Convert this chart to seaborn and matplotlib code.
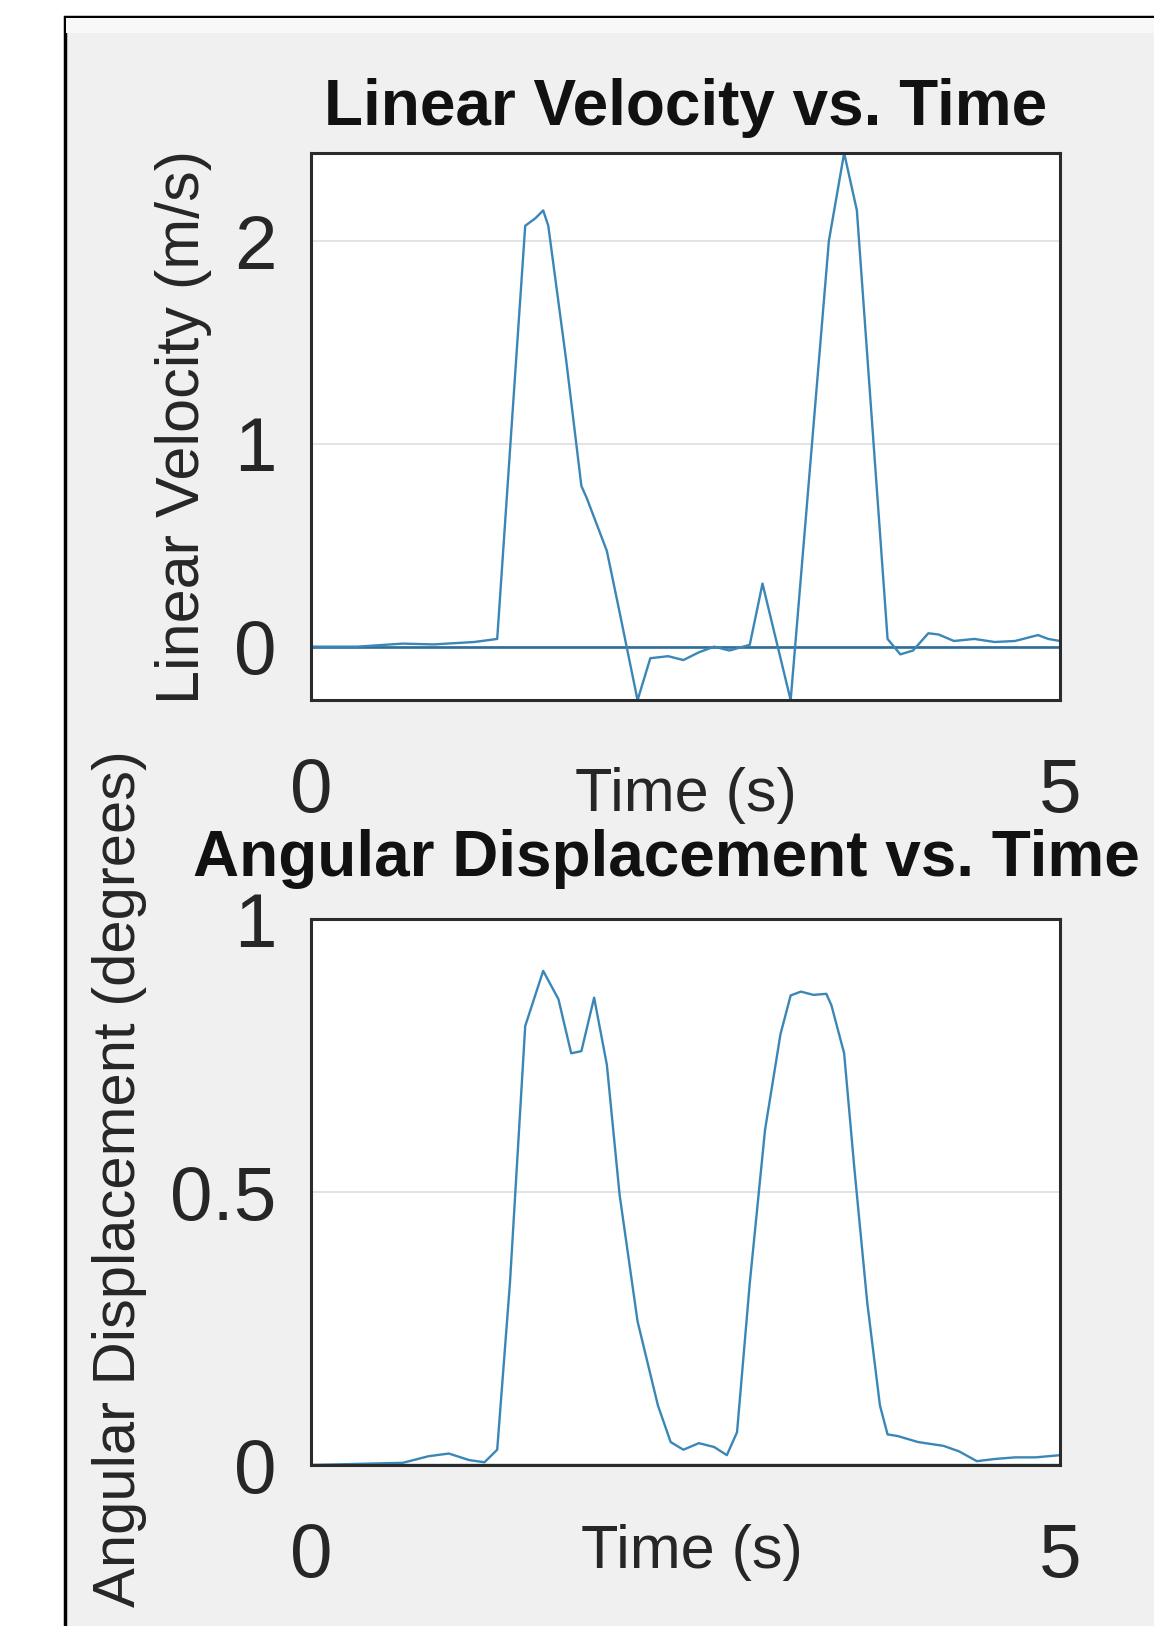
import numpy as np
import pandas as pd
import matplotlib
matplotlib.use("Agg")
import matplotlib.pyplot as plt
import seaborn as sns
from matplotlib.patches import Rectangle

# values
vel_time = [0.0, 0.31, 0.613, 0.817, 1.09, 1.243, 1.43, 1.499, 1.55, 1.584, 1.703,
            1.805, 1.839, 1.975, 2.06, 2.18, 2.265, 2.384, 2.486, 2.589, 2.691,
            2.793, 2.929, 3.014, 3.202, 3.457, 3.559, 3.644, 3.849, 3.934, 4.019,
            4.121, 4.189, 4.292, 4.428, 4.564, 4.70, 4.853, 4.922, 5.0]
vel_value = [0.0, 0.0, 0.015, 0.011, 0.023, 0.038, 2.075, 2.113, 2.151, 2.075, 1.415,
             0.792, 0.736, 0.472, 0.17, -0.264, -0.057, -0.047, -0.066, -0.028, 0.0,
             -0.019, 0.009, 0.311, -0.264, 2.0, 2.434, 2.151, 0.038, -0.038, -0.019,
             0.066, 0.06, 0.028, 0.038, 0.023, 0.028, 0.057, 0.038, 0.028]

ang_time = [0.0, 0.613, 0.783, 0.92, 1.056, 1.158, 1.243, 1.328, 1.43, 1.55, 1.652,
            1.737, 1.805, 1.89, 1.975, 2.06, 2.18, 2.316, 2.401, 2.486, 2.589,
            2.691, 2.776, 2.844, 2.929, 3.031, 3.134, 3.202, 3.27, 3.355, 3.44,
            3.474, 3.559, 3.627, 3.713, 3.798, 3.849, 3.917, 4.053, 4.223, 4.326,
            4.445, 4.564, 4.70, 4.837, 5.0]
ang_value = [0.0, 0.004, 0.016, 0.021, 0.009, 0.005, 0.028, 0.333, 0.804, 0.905, 0.853,
             0.754, 0.758, 0.856, 0.733, 0.495, 0.263, 0.109, 0.042, 0.028, 0.04,
             0.033, 0.018, 0.06, 0.333, 0.614, 0.789, 0.86, 0.867, 0.861, 0.863,
             0.842, 0.754, 0.544, 0.298, 0.109, 0.056, 0.053, 0.042, 0.035, 0.025,
             0.007, 0.011, 0.014, 0.014, 0.018]

vel_ticks = [0, 1, 2]
ang_ticks = [0, 0.5, 1]
ang_tick_labels = ["0", "0.5", "1"]
time_ticks = [0, 5]

sns.set_theme(style="white")
plt.rcParams["font.family"] = ["Liberation Sans", "DejaVu Sans"]

line_col = "#3a86b6"
zero_col = "#2c6d99"

fig = plt.figure(figsize=(11.54, 16.26), dpi=100, facecolor="white")

# gray MATLAB-like window with black frame (cut off at right / bottom)
W, H = 1154, 1626
fig.patches.append(Rectangle((65 / W, -0.1), 1.2, 1.1 - 17 / H, transform=fig.transFigure,
                             facecolor="#f0f0f0", edgecolor="black", lw=2.5, zorder=-2))
fig.patches.append(Rectangle((66 / W, 1 - 33 / H), 1.2, 15 / H, transform=fig.transFigure,
                             facecolor="#f8f8f8", edgecolor="none", zorder=-1))

ax1 = fig.add_axes([311 / W, 1 - 700 / H, 749 / W, 547 / H])
ax2 = fig.add_axes([311 / W, 1 - 1465 / H, 749 / W, 546 / H])

df_vel = pd.DataFrame({"t": vel_time, "v": vel_value})
df_ang = pd.DataFrame({"t": ang_time, "a": ang_value})

sns.lineplot(data=df_vel, x="t", y="v", ax=ax1, color=line_col, lw=1.7)
sns.lineplot(data=df_ang, x="t", y="a", ax=ax2, color=line_col, lw=1.7)
ax1.axhline(0, color=zero_col, lw=1.9, zorder=1)
ax2.axhline(0, color=zero_col, lw=2.4, zorder=1)

ax1.set_xlim(0, 5)
ax1.set_ylim(-0.263, 2.434)
ax2.set_xlim(0, 5)
ax2.set_ylim(0, 1)

for ax in (ax1, ax2):
    ax.set_facecolor("white")
    ax.set_xticks(time_ticks)
    ax.set_xticklabels(["0", "5"])
    ax.tick_params(axis="x", length=0, pad=41, labelsize=55, labelcolor="#262626")
    ax.tick_params(axis="y", length=0, pad=25, labelsize=55, labelcolor="#262626")
    ax.yaxis.grid(True, color="#dedede", lw=1.2)
    ax.xaxis.grid(False)
    ax.set_axisbelow(True)
    for s in ax.spines.values():
        s.set_color("#2b2b2b")
        s.set_linewidth(2.2)
        s.set_visible(True)

ax1.set_yticks(vel_ticks)
ax1.set_yticklabels([str(v) for v in vel_ticks])
ax2.set_yticks(ang_ticks)
ax2.set_yticklabels(ang_tick_labels)

ax1.set_title("Linear Velocity vs. Time", fontsize=46, fontweight="bold", pad=20, color="#111111")
ax2.set_title("Angular Displacement vs. Time", fontsize=46, fontweight="bold", pad=31,
              color="#111111", x=0.474)

ax1.set_xlabel("Time (s)", fontsize=44, color="#262626", va="center")
ax1.xaxis.set_label_coords(0.5, -0.175)
ax2.set_xlabel("Time (s)", fontsize=44, color="#262626", va="center")
ax2.xaxis.set_label_coords(0.509, -0.161)

ax1.set_ylabel("Linear Velocity (m/s)", fontsize=44, color="#262626", va="center")
ax1.yaxis.set_label_coords(-0.17, 0.5)
ax2.set_ylabel("Angular Displacement (degrees)", fontsize=43, color="#262626", va="center")
ax2.yaxis.set_label_coords(-0.256, 0.525)

fig.savefig("out.png", dpi=100, facecolor=fig.get_facecolor())
